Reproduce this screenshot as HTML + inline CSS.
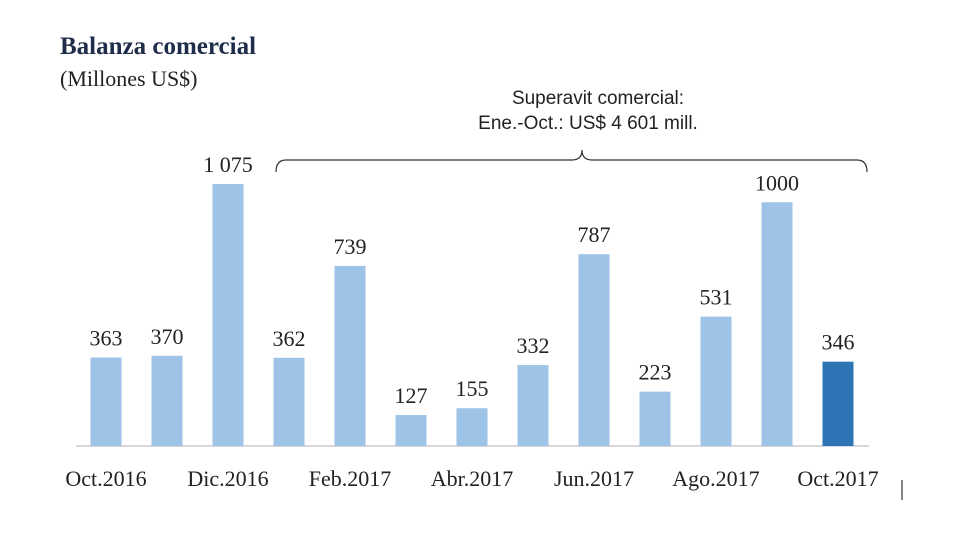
<!DOCTYPE html>
<html><head><meta charset="utf-8"><style>
body{margin:0;background:#fff;width:980px;height:547px;overflow:hidden}
svg{display:block}
.serif{font-family:"Liberation Serif",serif}
.sans{font-family:"Liberation Sans",sans-serif}
</style></head><body>
<svg id="chart" width="980" height="547">
<text class="serif" x="60" y="54" font-size="25" font-weight="bold" fill="#1f2d4a">Balanza comercial</text>
<text class="serif" x="60" y="86" font-size="22" fill="#222">(Millones US$)</text>
<text class="sans" x="598" y="104" font-size="19" text-anchor="middle" fill="#222">Superavit comercial:</text>
<text class="sans" x="588" y="129" font-size="19" text-anchor="middle" fill="#222">Ene.-Oct.: US$ 4 601 mill.</text>
<path d="M276,172 Q276,160 286,160 L572,160 Q582,160 582,150 Q582,160 592,160 L857,160 Q867,160 867,172" fill="none" stroke="#333" stroke-width="1.2"/>
<line x1="76" y1="446" x2="869" y2="446" stroke="#ccc" stroke-width="1.5"/>
<line x1="902" y1="480" x2="902" y2="500" stroke="#333" stroke-width="1.2"/>
<g id="bars"></g>
</svg>
<script>
const categories=["Oct.2016","Nov.2016","Dic.2016","Ene.2017","Feb.2017","Mar.2017","Abr.2017","May.2017","Jun.2017","Jul.2017","Ago.2017","Sep.2017","Oct.2017"];
const values=[363,370,1075,362,739,127,155,332,787,223,531,1000,346];
const valueLabels=["363","370","1 075","362","739","127","155","332","787","223","531","1000","346"];
const x0=106,step=61,base=446,scale=262/1075,bw=31;
const xPos=i=>x0+i*step;
const yPos=v=>base-v*scale;
const g=document.getElementById('bars');
const ns="http://www.w3.org/2000/svg";
values.forEach((v,i)=>{
 const r=document.createElementNS(ns,'rect');
 r.setAttribute('x',xPos(i)-bw/2);r.setAttribute('y',yPos(v));
 r.setAttribute('width',bw);r.setAttribute('height',base-yPos(v));
 r.setAttribute('fill',i===values.length-1?'#2e75b6':'#9dc3e6');
 
 
 g.appendChild(r);
 const t=document.createElementNS(ns,'text');
 t.setAttribute('x',xPos(i));t.setAttribute('y',yPos(v)-12);
 t.setAttribute('text-anchor','middle');t.setAttribute('class','serif');
 t.setAttribute('font-size','22');t.setAttribute('fill','#222');
 t.textContent=valueLabels[i];
 
 
 g.appendChild(t);
 if(i%2===0){
  const l=document.createElementNS(ns,'text');
  l.setAttribute('x',xPos(i));l.setAttribute('y',486);
  l.setAttribute('text-anchor','middle');l.setAttribute('class','serif');
  l.setAttribute('font-size','22');l.setAttribute('fill','#222');
  l.textContent=categories[i];
  
  
  g.appendChild(l);
 }
});
</script>
</body></html>
